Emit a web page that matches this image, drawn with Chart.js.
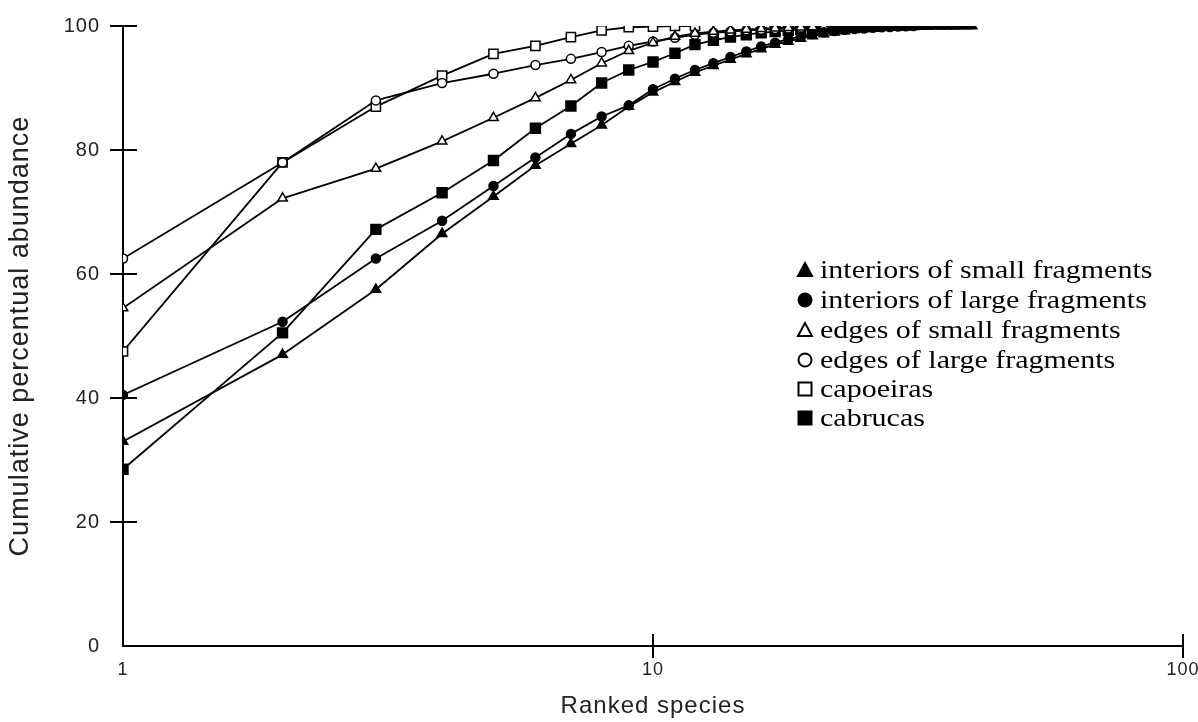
<!DOCTYPE html>
<html><head><meta charset="utf-8">
<script src="https://cdn.jsdelivr.net/npm/chart.js@4.4.1/dist/chart.umd.min.js"></script>
<style>
html,body{margin:0;padding:0;background:#fff;}
#wrap{position:relative;width:1198px;height:722px;overflow:hidden;}
canvas{display:block;}
.row{position:absolute;left:796px;height:30px;display:flex;align-items:center;white-space:nowrap;}
.row svg{width:18px;height:18px;flex:none;}
.row span{font-family:"Liberation Serif","Times New Roman",serif;font-size:25px;color:#000;margin-left:6px;display:inline-block;transform:scaleX(1.2);transform-origin:left center;}
</style></head>
<body><div id="wrap"><canvas id="c" width="1198" height="722"></canvas><div id="legend"></div></div>
<script>
// ---- data ----
const seriesNames = ["interiors of small fragments","interiors of large fragments","edges of small fragments","edges of large fragments","capoeiras","cabrucas"];
const interiorsSmall = [33,47,57.5,66.5,72.5,77.5,81,84,87,89.3,91,92.5,93.6,94.6,95.5,96.3,97,97.5,98,98.4,98.7,99,99.2,99.4,99.5,99.6,99.7,99.75,99.8,99.85,99.87,99.9,99.92,99.94,99.95,99.96,99.97,99.98,99.99,100];
const interiorsLarge = [40.5,52.3,62.5,68.6,74.2,78.8,82.6,85.4,87.2,89.8,91.5,92.9,94,95,95.9,96.7,97.3,97.9,98.3,98.7,99,99.2,99.4,99.5,99.6,99.7,99.8,99.85,99.9,99.95,100];
const edgesSmall = [54.5,72.2,77,81.4,85.2,88.4,91.3,94,96,97.3,98.3,98.8,99.1,99.3,99.45,99.55,99.65,99.72,99.8,99.85,99.9,99.94,99.97,100];
const edgesLarge = [62.5,78,88,90.8,92.3,93.7,94.7,95.8,96.8,97.5,98.1,98.6,98.9,99.1,99.3,99.4,99.5,99.6,99.67,99.73,99.8,99.84,99.88,99.91,99.94,99.96,99.98,100];
const capoeiras = [47.5,78,87,92,95.5,96.8,98.2,99.3,99.8,99.9,100,100];
const cabrucas = [28.5,50.5,67.2,73.1,78.3,83.5,87.1,90.8,92.9,94.2,95.6,97,97.7,98.2,98.6,98.9,99.1,99.3,99.45,99.6,99.7,99.8,99.87,99.93,99.97,100];
const yTicks = [0,20,40,60,80,100];
const xTicks = [1,10,100];
const xTitle = "Ranked species";
const yTitle = "Cumulative percentual abundance";

const toPts = arr => arr.map((v,i)=>({x:i+1,y:v}));
const styles = [
  {pointStyle:'triangle', fill:'#000', r:5.5},
  {pointStyle:'circle', fill:'#000', r:4.5},
  {pointStyle:'triangle', fill:'#fff', r:5.5},
  {pointStyle:'circle', fill:'#fff', r:4.5},
  {pointStyle:'rect', fill:'#fff', r:6.5},
  {pointStyle:'rect', fill:'#000', r:7}
];
const seriesData = [interiorsSmall, interiorsLarge, edgesSmall, edgesLarge, capoeiras, cabrucas];

const datasets = seriesData.map((d,i)=>({
  label: seriesNames[i],
  data: toPts(d),
  borderColor:'#000',
  borderWidth:1.8,
  pointStyle: styles[i].pointStyle,
  pointRadius: styles[i].r,
  pointBackgroundColor: styles[i].fill,
  pointBorderColor:'#000',
  pointBorderWidth:1.5,
  fill:false,
  tension:0
}));

const crossTicks = {
  id:'crossTicks',
  beforeDraw(chart){ chart.ctx.letterSpacing = '1px'; },
  beforeDatasetsDraw(chart){
    const {ctx, scales:{x,y}} = chart;
    ctx.save(); ctx.strokeStyle='#000'; ctx.lineWidth=2;
    yTicks.forEach(v=>{ if(v===0) return; const py=Math.round(y.getPixelForValue(v)); ctx.beginPath(); ctx.moveTo(y.right-13,py); ctx.lineTo(y.right+14,py); ctx.stroke(); });
    xTicks.forEach(v=>{ if(v===1) return; const px=Math.round(x.getPixelForValue(v)); ctx.beginPath(); ctx.moveTo(px,x.top-12); ctx.lineTo(px,x.top+12); ctx.stroke(); });
    ctx.restore();
  }
};

new Chart(document.getElementById('c'), {
  type:'line',
  data:{datasets},
  options:{
    responsive:false, animation:false,
    layout:{padding:{top:26,right:0,left:0,bottom:0}},
    plugins:{legend:{display:false}, tooltip:{enabled:false}},
    elements:{line:{borderJoinStyle:'round'}},
    scales:{
      x:{type:'logarithmic', min:1, max:100,
        afterBuildTicks(s){ s.ticks = xTicks.map(v=>({value:v})); },
        afterFit(s){ s.height = 76; s.paddingLeft = 0; s.paddingRight = 15; },
        grid:{display:false},
        border:{display:true,color:'#000',width:2},
        ticks:{autoSkip:false, maxRotation:0, padding:5, color:'#222',
          font:{family:'"Liberation Sans", Arial, sans-serif', size:18},
          callback:(v)=>String(v)},
        title:{display:true, text:xTitle, color:'#222', padding:{top:0,bottom:1},
          font:{family:'"Liberation Sans", Arial, sans-serif', size:24}}
      },
      y:{min:0, max:100,
        afterBuildTicks(s){ s.ticks = yTicks.map(v=>({value:v})); },
        afterFit(s){ s.width = 123; s.paddingTop = 0; s.paddingBottom = 0; },
        grid:{display:false},
        border:{display:true,color:'#000',width:2},
        ticks:{padding:15, color:'#222',
          font:{family:'"Liberation Sans", Arial, sans-serif', size:20}},
        title:{display:true, text:yTitle, color:'#222', padding:{top:4,bottom:0},
          font:{family:'"Liberation Sans", Arial, sans-serif', size:27}}
      }
    }
  },
  plugins:[crossTicks]
});

// legend (HTML text)
const markerSvg = i => {
  const s = styles[i], f = s.fill;
  if (s.pointStyle==='triangle') return `<svg viewBox="0 0 18 18"><polygon points="9,2 16,15 2,15" fill="${f}" stroke="#000" stroke-width="2"/></svg>`;
  if (s.pointStyle==='circle') return `<svg viewBox="0 0 18 18"><circle cx="9" cy="9" r="6.5" fill="${f}" stroke="#000" stroke-width="2"/></svg>`;
  return `<svg viewBox="0 0 18 18"><rect x="2.5" y="2.5" width="13" height="13" fill="${f}" stroke="#000" stroke-width="2"/></svg>`;
};
const legendTops = [255,285,315,345,374,403];
document.getElementById('legend').innerHTML = seriesNames.map((n,i)=>
  `<div class="row" style="top:${legendTops[i]}px">${markerSvg(i)}<span>${n}</span></div>`).join('');
</script>
</body></html>
